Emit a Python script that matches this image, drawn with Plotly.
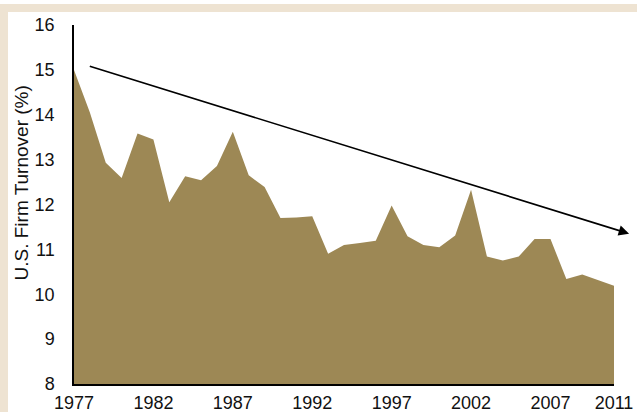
import plotly.graph_objects as go

years = list(range(1977, 2012))
turnover = [15.0, 14.05, 12.93, 12.59, 13.58, 13.45, 12.05, 12.63, 12.54, 12.86,
            13.62, 12.65, 12.39, 11.70, 11.71, 11.74, 10.90, 11.10, 11.14, 11.19,
            11.98, 11.29, 11.10, 11.05, 11.31, 12.33, 10.84, 10.75, 10.84, 11.23,
            11.23, 10.34, 10.44, 10.32, 10.19]
x_ticks = [1977, 1982, 1987, 1992, 1997, 2002, 2007, 2011]
y_ticks = [8, 9, 10, 11, 12, 13, 14, 15, 16]
y_title = "U.S. Firm Turnover (%)"
trend_start = (1977.9, 15.09)
trend_end = (2011.95, 11.35)

W, H = 637, 412
L, R, T, B = 74, 23, 25, 28
PW, PH = W - L - R, H - T - B


def fx(px):
    return (px - L) / PW


def fy(py):
    return 1 - (py - T) / PH


BEIGE = "#EEE3D2"
FAMILY = "Liberation Sans, Arial, sans-serif"
font = dict(family=FAMILY, size=18, color="#111111")

fig = go.Figure()
fig.add_trace(go.Scatter(
    x=years, y=turnover, mode="lines", fill="tozeroy",
    line=dict(color="#9D8855", width=0), fillcolor="#9D8855",
    hoverinfo="skip", showlegend=False))

fig.update_layout(
    width=W, height=H,
    margin=dict(l=L, r=R, t=T, b=B, pad=0),
    paper_bgcolor="white",
    plot_bgcolor="white",
    font=font,
    showlegend=False,
    xaxis=dict(range=[1977, 2011], tickvals=x_ticks, ticktext=[str(v) for v in x_ticks],
               showgrid=False, zeroline=False, showline=True, linecolor="black", linewidth=1.5,
               ticks="outside", ticklen=2, tickcolor="rgba(0,0,0,0)", tickfont=font,
               automargin=False),
    yaxis=dict(range=[8, 16], tickvals=y_ticks, showgrid=False, zeroline=False,
               showline=True, linecolor="black", linewidth=1.5,
               ticks="outside", ticklen=14, tickcolor="rgba(0,0,0,0)", tickfont=font,
               automargin=False),
    shapes=[dict(type="rect", xref="paper", yref="paper", layer="below",
                 x0=fx(-2), x1=fx(W + 2), y0=fy(12), y1=fy(4),
                 fillcolor=BEIGE, line=dict(width=0)),
            dict(type="rect", xref="paper", yref="paper", layer="below",
                 x0=fx(-2), x1=fx(8), y0=fy(H + 2), y1=fy(4),
                 fillcolor=BEIGE, line=dict(width=0))],
    annotations=[dict(x=trend_end[0], y=trend_end[1], ax=trend_start[0], ay=trend_start[1],
                      xref="x", yref="y", axref="x", ayref="y", text="", showarrow=True,
                      arrowhead=2, arrowsize=1.3, arrowwidth=1.6, arrowcolor="black"),
                 dict(x=fx(20.5), y=fy(183), xref="paper", yref="paper", text=y_title,
                      textangle=-90, showarrow=False, xanchor="center", yanchor="middle",
                      font=dict(family=FAMILY, size=19, color="#111111"))],
)

fig.write_html("out.html", config={"displayModeBar": False},
               post_script="document.body.style.margin='0';document.body.style.overflow='hidden';")
